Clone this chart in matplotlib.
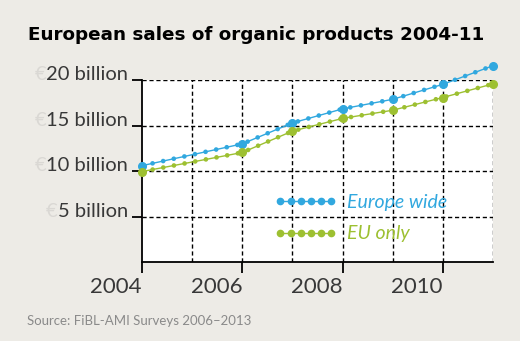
import matplotlib
matplotlib.use("Agg")
import matplotlib.pyplot as plt
from matplotlib.lines import Line2D
from matplotlib.transforms import blended_transform_factory

plt.rcParams['font.family'] = ['Lato', 'DejaVu Sans']
plt.rcParams['lines.scale_dashes'] = False

years = [2004, 2006, 2007, 2008, 2009, 2010, 2011]
europe_wide = [10.6, 13.0, 15.3, 16.85, 17.9, 19.55, 21.6]
eu_only = [9.95, 12.05, 14.4, 15.8, 16.7, 18.1, 19.6]
series_names = ["Europe wide", "EU only"]
yticks = [5, 10, 15, 20]
ytick_labels = ["5 billion", "10 billion", "15 billion", "20 billion"]
xticks = [2004, 2006, 2008, 2010]

blue = "#31a8df"
green = "#9dc031"
bg = "#edebe6"
txtc = "#383838"

fig = plt.figure(figsize=(5.2, 3.41), dpi=100, facecolor=bg)
ax = fig.add_axes([0.273, 0.2317, 0.675, 0.533])
ax.set_facecolor("white")
ax.set_xlim(2004, 2011)
ax.set_ylim(0, 20)

# dashed grid
for y in yticks:
    ax.axhline(y, color="black", ls=(0, (3, 2)), lw=1, zorder=1)
for x in range(2005, 2012):
    ax.axvline(x, color="black", ls=(0, (3, 2)), lw=1, zorder=1)

for sp in ["top", "right"]:
    ax.spines[sp].set_visible(False)
for sp in ["left", "bottom"]:
    ax.spines[sp].set_linewidth(1.3)

for vals, col in [(europe_wide, blue), (eu_only, green)]:
    ax.plot(years, vals, color=col, lw=1.0, marker="o", ms=5.5, mec=col,
            clip_on=False, zorder=3)
    ax.plot(years, vals, color=col, lw=3.4, ls=(0, (0.01, 7.8)),
            dash_capstyle="round", clip_on=False, zorder=3)

ax.set_xticks(xticks)
ax.set_xticklabels([str(x) for x in xticks], fontsize=16, color=txtc, ha="right")
ax.tick_params(axis="x", length=8, width=1.3, pad=3)
ax.set_yticks(yticks)
ax.set_yticklabels(ytick_labels, fontsize=14.5, color=txtc)
ax.tick_params(axis="y", length=7, width=1.3, pad=3)
for lab in ax.get_yticklabels():
    lab.set_va("baseline")

handles = [Line2D([], [], color=blue, marker="o", ms=4.5, lw=1.0),
           Line2D([], [], color=green, marker="o", ms=4.5, lw=1.0)]
leg = ax.legend(handles, series_names, loc="upper left", bbox_to_anchor=(0.378, 0.375),
                numpoints=6, handlelength=3.2, handletextpad=0.5, labelspacing=0.75,
                borderaxespad=0, borderpad=0,
                frameon=False, prop={"size": 14, "style": "italic"})
for txt, col in zip(leg.get_texts(), [blue, green]):
    txt.set_color(col)

fig.text(0.054, 0.897, "European sales of organic products 2004-11",
         fontsize=13.2, fontweight="bold", color="black", va="center",
         family="DejaVu Sans")
fig.text(0.052, 0.059, "Source: FiBL-AMI Surveys 2006\u20132013",
         fontsize=9.5, color="#8a8a8a", va="center")

# faint euro signs in front of the y tick labels
fig.canvas.draw()
r = fig.canvas.get_renderer()
tr = blended_transform_factory(fig.transFigure, ax.transData)
for lab in ax.get_yticklabels():
    bb = lab.get_window_extent(r)
    fig.text(bb.x0 / fig.bbox.width, lab.get_position()[1], "\u20ac",
             transform=tr, fontsize=14.5, color="#dad8d4", ha="right", va="baseline")

fig.savefig("out.png", dpi=100, facecolor=bg)
